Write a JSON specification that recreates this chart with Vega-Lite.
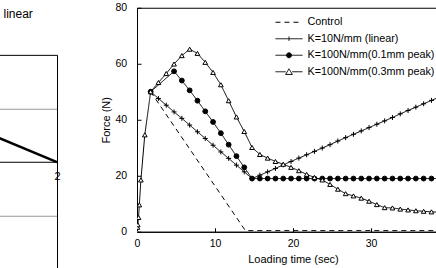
{
  "$schema": "https://vega.github.io/schema/vega-lite/v6.json",
  "padding": {"left": -100, "top": 1.75, "right": 0, "bottom": 0},
  "spacing": 80,
  "bounds": "flush",
  "config": {
    "font": "Liberation Sans",
    "view": {"stroke": "black", "strokeWidth": 1},
    "axis": {"domainColor": "black", "tickColor": "black", "labelColor": "black", "titleColor": "black", "labelFontSize": 10.5, "titleFontSize": 11, "titleFontWeight": "normal", "grid": false}
  },
  "hconcat": [
    {
      "width": 157,
      "height": 315,
      "view": {"stroke": null},
      "data": {"values": [{"x": 1.0, "y": 0.61}, {"x": 2, "y": 0}]},
      "mark": {"type": "line", "color": "black", "strokeWidth": 2.5},
      "encoding": {
        "x": {"field": "x", "type": "quantitative", "scale": {"domain": [0, 2], "nice": false, "zero": false},
          "axis": {"orient": "top", "values": [2], "offset": -47.1, "tickSize": -400, "labelPadding": 273.5, "labelFlush": false, "title": null, "labelFontSize": 11, "grid": false}},
        "y": {"field": "y", "type": "quantitative", "scale": {"domain": [-3, 2.88], "nice": false, "zero": false},
          "axis": {"values": [-2, -1, 0, 1], "grid": true, "gridColor": {"condition": {"test": "datum.value === 0", "value": "black"}, "value": "#999999"}, "domain": false, "ticks": false, "labels": false,
            "title": "linear", "titleAngle": 0, "titleAlign": "left", "titleBaseline": "alphabetic", "titleX": 103, "titleY": 9.7, "titleFontSize": 12, "titleColor": "black", "titleFontWeight": "normal"}}
      }
    },
    {
      "width": 312,
      "height": 224,
      "data": {"values": [
        {"s": "Control", "t": 1.75, "f": 50},
        {"s": "Control", "t": 13.9, "f": 0.4},
        {"s": "Control", "t": 40, "f": 0.4},
        {"s": "K=10N/mm (linear)", "t": 1.75, "f": 50},
        {"s": "K=10N/mm (linear)", "t": 2.75, "f": 47.6},
        {"s": "K=10N/mm (linear)", "t": 3.75, "f": 45.2},
        {"s": "K=10N/mm (linear)", "t": 4.75, "f": 42.8},
        {"s": "K=10N/mm (linear)", "t": 5.75, "f": 40.5},
        {"s": "K=10N/mm (linear)", "t": 6.75, "f": 38.1},
        {"s": "K=10N/mm (linear)", "t": 7.75, "f": 35.7},
        {"s": "K=10N/mm (linear)", "t": 8.75, "f": 33.3},
        {"s": "K=10N/mm (linear)", "t": 9.75, "f": 30.9},
        {"s": "K=10N/mm (linear)", "t": 10.75, "f": 28.5},
        {"s": "K=10N/mm (linear)", "t": 11.75, "f": 26.2},
        {"s": "K=10N/mm (linear)", "t": 12.75, "f": 23.8},
        {"s": "K=10N/mm (linear)", "t": 13.75, "f": 21.4},
        {"s": "K=10N/mm (linear)", "t": 14.75, "f": 19.0},
        {"s": "K=10N/mm (linear)", "t": 15.75, "f": 20.2},
        {"s": "K=10N/mm (linear)", "t": 16.75, "f": 21.4},
        {"s": "K=10N/mm (linear)", "t": 17.75, "f": 22.6},
        {"s": "K=10N/mm (linear)", "t": 18.75, "f": 23.9},
        {"s": "K=10N/mm (linear)", "t": 19.75, "f": 25.1},
        {"s": "K=10N/mm (linear)", "t": 20.75, "f": 26.3},
        {"s": "K=10N/mm (linear)", "t": 21.75, "f": 27.5},
        {"s": "K=10N/mm (linear)", "t": 22.75, "f": 28.7},
        {"s": "K=10N/mm (linear)", "t": 23.75, "f": 29.9},
        {"s": "K=10N/mm (linear)", "t": 24.75, "f": 31.1},
        {"s": "K=10N/mm (linear)", "t": 25.75, "f": 32.4},
        {"s": "K=10N/mm (linear)", "t": 26.75, "f": 33.6},
        {"s": "K=10N/mm (linear)", "t": 27.75, "f": 34.8},
        {"s": "K=10N/mm (linear)", "t": 28.75, "f": 36.0},
        {"s": "K=10N/mm (linear)", "t": 29.75, "f": 37.2},
        {"s": "K=10N/mm (linear)", "t": 30.75, "f": 38.4},
        {"s": "K=10N/mm (linear)", "t": 31.75, "f": 39.6},
        {"s": "K=10N/mm (linear)", "t": 32.75, "f": 40.8},
        {"s": "K=10N/mm (linear)", "t": 33.75, "f": 42.1},
        {"s": "K=10N/mm (linear)", "t": 34.75, "f": 43.3},
        {"s": "K=10N/mm (linear)", "t": 35.75, "f": 44.5},
        {"s": "K=10N/mm (linear)", "t": 36.75, "f": 45.7},
        {"s": "K=10N/mm (linear)", "t": 37.75, "f": 46.9},
        {"s": "K=10N/mm (linear)", "t": 38.75, "f": 48.1},
        {"s": "K=10N/mm (linear)", "t": 39.75, "f": 49.4},
        {"s": "K=100N/mm(0.1mm peak)", "t": 1.75, "f": 50},
        {"s": "K=100N/mm(0.1mm peak)", "t": 4.75, "f": 57.3},
        {"s": "K=100N/mm(0.1mm peak)", "t": 5.75, "f": 54.0},
        {"s": "K=100N/mm(0.1mm peak)", "t": 6.75, "f": 50.5},
        {"s": "K=100N/mm(0.1mm peak)", "t": 7.75, "f": 46.8},
        {"s": "K=100N/mm(0.1mm peak)", "t": 8.75, "f": 43.0},
        {"s": "K=100N/mm(0.1mm peak)", "t": 9.75, "f": 39.2},
        {"s": "K=100N/mm(0.1mm peak)", "t": 10.75, "f": 35.2},
        {"s": "K=100N/mm(0.1mm peak)", "t": 11.75, "f": 31.1},
        {"s": "K=100N/mm(0.1mm peak)", "t": 12.75, "f": 27.0},
        {"s": "K=100N/mm(0.1mm peak)", "t": 13.75, "f": 23.0},
        {"s": "K=100N/mm(0.1mm peak)", "t": 14.75, "f": 19.0},
        {"s": "K=100N/mm(0.1mm peak)", "t": 15.75, "f": 19.0},
        {"s": "K=100N/mm(0.1mm peak)", "t": 16.75, "f": 19.0},
        {"s": "K=100N/mm(0.1mm peak)", "t": 17.75, "f": 19.0},
        {"s": "K=100N/mm(0.1mm peak)", "t": 18.75, "f": 19.0},
        {"s": "K=100N/mm(0.1mm peak)", "t": 19.75, "f": 19.0},
        {"s": "K=100N/mm(0.1mm peak)", "t": 20.75, "f": 19.0},
        {"s": "K=100N/mm(0.1mm peak)", "t": 21.75, "f": 19.0},
        {"s": "K=100N/mm(0.1mm peak)", "t": 22.75, "f": 19.0},
        {"s": "K=100N/mm(0.1mm peak)", "t": 23.75, "f": 19.0},
        {"s": "K=100N/mm(0.1mm peak)", "t": 24.75, "f": 19.0},
        {"s": "K=100N/mm(0.1mm peak)", "t": 25.75, "f": 19.0},
        {"s": "K=100N/mm(0.1mm peak)", "t": 26.75, "f": 19.0},
        {"s": "K=100N/mm(0.1mm peak)", "t": 27.75, "f": 19.0},
        {"s": "K=100N/mm(0.1mm peak)", "t": 28.75, "f": 19.0},
        {"s": "K=100N/mm(0.1mm peak)", "t": 29.75, "f": 19.0},
        {"s": "K=100N/mm(0.1mm peak)", "t": 30.75, "f": 19.0},
        {"s": "K=100N/mm(0.1mm peak)", "t": 31.75, "f": 19.0},
        {"s": "K=100N/mm(0.1mm peak)", "t": 32.75, "f": 19.0},
        {"s": "K=100N/mm(0.1mm peak)", "t": 33.75, "f": 19.0},
        {"s": "K=100N/mm(0.1mm peak)", "t": 34.75, "f": 19.0},
        {"s": "K=100N/mm(0.1mm peak)", "t": 35.75, "f": 19.0},
        {"s": "K=100N/mm(0.1mm peak)", "t": 36.75, "f": 19.0},
        {"s": "K=100N/mm(0.1mm peak)", "t": 37.75, "f": 19.0},
        {"s": "K=100N/mm(0.1mm peak)", "t": 38.75, "f": 19.0},
        {"s": "K=100N/mm(0.1mm peak)", "t": 39.75, "f": 19.0},
        {"s": "K=100N/mm(0.3mm peak)", "t": 0, "f": 0},
        {"s": "K=100N/mm(0.3mm peak)", "t": 0.05, "f": 1.6},
        {"s": "K=100N/mm(0.3mm peak)", "t": 0.1, "f": 2.5},
        {"s": "K=100N/mm(0.3mm peak)", "t": 0.2, "f": 5.1},
        {"s": "K=100N/mm(0.3mm peak)", "t": 0.3, "f": 9.6},
        {"s": "K=100N/mm(0.3mm peak)", "t": 0.5, "f": 18.5},
        {"s": "K=100N/mm(0.3mm peak)", "t": 1.0, "f": 34.6},
        {"s": "K=100N/mm(0.3mm peak)", "t": 1.75, "f": 50},
        {"s": "K=100N/mm(0.3mm peak)", "t": 2.75, "f": 53.3},
        {"s": "K=100N/mm(0.3mm peak)", "t": 3.75, "f": 56.5},
        {"s": "K=100N/mm(0.3mm peak)", "t": 4.75, "f": 59.9},
        {"s": "K=100N/mm(0.3mm peak)", "t": 5.75, "f": 62.9},
        {"s": "K=100N/mm(0.3mm peak)", "t": 6.75, "f": 65.2},
        {"s": "K=100N/mm(0.3mm peak)", "t": 7.75, "f": 63.7},
        {"s": "K=100N/mm(0.3mm peak)", "t": 8.75, "f": 60.5},
        {"s": "K=100N/mm(0.3mm peak)", "t": 9.75, "f": 56.9},
        {"s": "K=100N/mm(0.3mm peak)", "t": 10.75, "f": 52.5},
        {"s": "K=100N/mm(0.3mm peak)", "t": 11.75, "f": 46.8},
        {"s": "K=100N/mm(0.3mm peak)", "t": 12.75, "f": 41.0},
        {"s": "K=100N/mm(0.3mm peak)", "t": 13.75, "f": 35.8},
        {"s": "K=100N/mm(0.3mm peak)", "t": 14.75, "f": 30.1},
        {"s": "K=100N/mm(0.3mm peak)", "t": 15.75, "f": 27.6},
        {"s": "K=100N/mm(0.3mm peak)", "t": 16.75, "f": 26.3},
        {"s": "K=100N/mm(0.3mm peak)", "t": 17.75, "f": 25.1},
        {"s": "K=100N/mm(0.3mm peak)", "t": 18.75, "f": 24.1},
        {"s": "K=100N/mm(0.3mm peak)", "t": 19.75, "f": 23.0},
        {"s": "K=100N/mm(0.3mm peak)", "t": 20.75, "f": 21.8},
        {"s": "K=100N/mm(0.3mm peak)", "t": 21.75, "f": 20.5},
        {"s": "K=100N/mm(0.3mm peak)", "t": 22.75, "f": 19.4},
        {"s": "K=100N/mm(0.3mm peak)", "t": 23.75, "f": 18.5},
        {"s": "K=100N/mm(0.3mm peak)", "t": 24.75, "f": 16.9},
        {"s": "K=100N/mm(0.3mm peak)", "t": 25.75, "f": 15.2},
        {"s": "K=100N/mm(0.3mm peak)", "t": 26.75, "f": 13.6},
        {"s": "K=100N/mm(0.3mm peak)", "t": 27.75, "f": 12.8},
        {"s": "K=100N/mm(0.3mm peak)", "t": 28.75, "f": 12.0},
        {"s": "K=100N/mm(0.3mm peak)", "t": 29.75, "f": 10.9},
        {"s": "K=100N/mm(0.3mm peak)", "t": 30.75, "f": 9.7},
        {"s": "K=100N/mm(0.3mm peak)", "t": 31.75, "f": 8.6},
        {"s": "K=100N/mm(0.3mm peak)", "t": 32.75, "f": 8.5},
        {"s": "K=100N/mm(0.3mm peak)", "t": 33.75, "f": 8.1},
        {"s": "K=100N/mm(0.3mm peak)", "t": 34.75, "f": 7.8},
        {"s": "K=100N/mm(0.3mm peak)", "t": 35.75, "f": 7.5},
        {"s": "K=100N/mm(0.3mm peak)", "t": 36.75, "f": 7.3},
        {"s": "K=100N/mm(0.3mm peak)", "t": 37.75, "f": 7.1},
        {"s": "K=100N/mm(0.3mm peak)", "t": 38.75, "f": 7.0},
        {"s": "K=100N/mm(0.3mm peak)", "t": 39.75, "f": 6.9}
      ]},
      "layer": [
        {
          "mark": {"type": "line", "color": "black", "strokeWidth": 1, "clip": true},
          "encoding": {
            "x": {"field": "t", "type": "quantitative", "scale": {"domain": [0, 40], "nice": false},
              "axis": {"values": [0, 10, 20, 30, 40], "title": "Loading time (sec)", "labelFlush": false, "tickSize": -4, "labelPadding": 10.75, "titlePadding": 4}},
            "y": {"field": "f", "type": "quantitative", "scale": {"domain": [0, 80], "nice": false},
              "axis": {"values": [0, 20, 40, 60, 80], "title": "Force (N)", "tickSize": -4, "labelPadding": 14.3, "titlePadding": 4}},
            "strokeDash": {"field": "s", "type": "nominal",
              "scale": {"domain": ["Control", "K=10N/mm (linear)", "K=100N/mm(0.1mm peak)", "K=100N/mm(0.3mm peak)"], "range": [[5, 4], [1, 0], [1, 0], [1, 0]]},
              "legend": {
                "orient": "none", "legendX": 383, "legendY": 8.5, "title": null, "padding": 0,
                "labelFontSize": 10.8, "labelColor": "black", "labelLimit": 300, "labelOffset": 12.5,
                "symbolSize": 117, "rowPadding": 5.5, "symbolStrokeColor": "black", "symbolStrokeWidth": 1,
                "encode": {"symbols": {"update": {
                  "shape": {"signal": "datum.value === 'Control' ? 'M-2.5,0H2.5' : datum.value === 'K=10N/mm (linear)' ? 'M-2.5,0H2.5M0,-0.4V0.4' : datum.value === 'K=100N/mm(0.1mm peak)' ? 'M-2.5,0H-0.46M0.46,0H2.5M0.46,0A0.46,0.46,0,1,1,-0.46,0A0.46,0.46,0,1,1,0.46,0' : 'M-2.5,0H-0.6M0.6,0H2.5M0,-0.55L0.62,0.5L-0.62,0.5Z'"},
                  "fill": {"signal": "datum.value === 'K=100N/mm(0.3mm peak)' ? 'white' : 'black'"},
                  "stroke": {"value": "black"},
                  "strokeWidth": {"value": 1}
                }}}
              }}
          }
        },
        {
          "transform": [{"filter": "datum.s !== 'Control'"}],
          "mark": {"type": "point", "stroke": "black", "strokeWidth": 1, "opacity": 1, "clip": true},
          "encoding": {
            "x": {"field": "t", "type": "quantitative"},
            "y": {"field": "f", "type": "quantitative"},
            "shape": {"field": "s", "type": "nominal", "legend": null,
              "scale": {"domain": ["K=10N/mm (linear)", "K=100N/mm(0.1mm peak)", "K=100N/mm(0.3mm peak)"], "range": ["M-1,0H1M0,-1V1", "circle", "triangle-up"]}},
            "fill": {"field": "s", "type": "nominal", "legend": null,
              "scale": {"domain": ["K=10N/mm (linear)", "K=100N/mm(0.1mm peak)", "K=100N/mm(0.3mm peak)"], "range": ["black", "black", "white"]}},
            "size": {"field": "s", "type": "nominal", "legend": null,
              "scale": {"domain": ["K=10N/mm (linear)", "K=100N/mm(0.1mm peak)", "K=100N/mm(0.3mm peak)"], "range": [25, 22, 40]}}
          }
        }
      ]
    }
  ]
}
